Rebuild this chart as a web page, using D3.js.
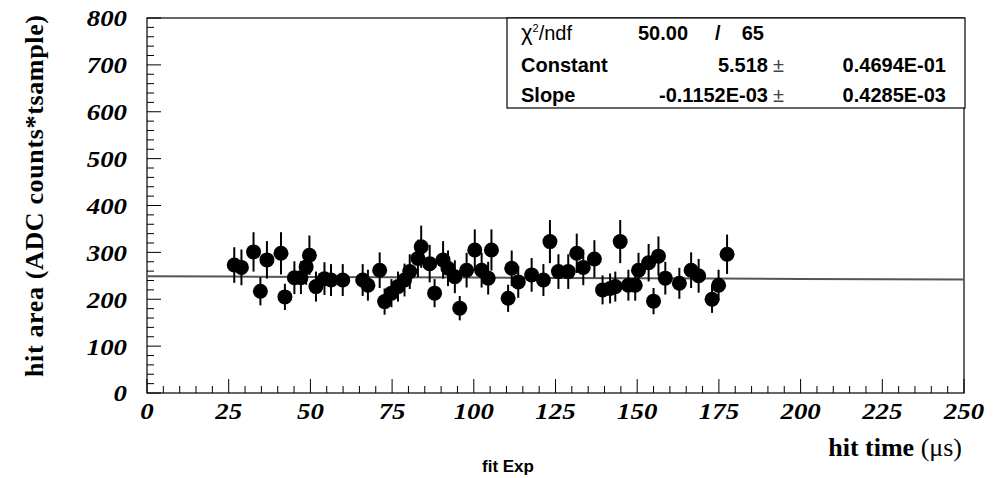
<!DOCTYPE html>
<meta charset="utf-8">
<script src="https://cdn.jsdelivr.net/npm/d3@7"></script>
<style>
  body { margin: 0; background: #fff; }
  .tick-label { font-family: "Liberation Serif", "DejaVu Serif", serif; font-weight: bold; font-style: italic; font-size: 24px; }
  .title { font-family: "Liberation Serif", serif; font-weight: bold; font-size: 26px; }
  .stat { font-family: "Liberation Sans", Arial, sans-serif; font-size: 20px; }
</style>

<svg id="graph" width="999" height="478"></svg>

<script>

// measured points: hit time (us), hit area, error
var hitTime = [26.7, 28.9, 32.6, 34.7, 36.7, 41.0, 42.2, 45.1, 47.1, 48.7, 49.7, 51.7, 54.3, 56.3, 59.9, 66.0,
               67.6, 71.2, 72.7, 74.8, 76.8, 78.8, 80.4, 82.9, 83.9, 86.5, 88.0, 90.6, 92.1, 94.2, 95.7, 97.8,
               100.3, 102.4, 104.4, 105.4, 110.5, 111.6, 113.6, 117.7, 121.3, 123.3, 125.9, 128.9, 131.5, 133.5,
               136.9, 139.4, 141.7, 143.3, 144.8, 147.3, 149.4, 150.4, 153.5, 155.0, 156.5, 158.6, 162.9, 166.5,
               168.8, 172.9, 174.9, 177.5];
var hitArea = [273, 268, 301, 217, 284, 298, 205, 246, 246, 269, 294, 227, 244, 241, 241, 241,
               230, 262, 195, 213, 227, 241, 259, 287, 312, 276, 213, 284, 266, 248, 181, 262,
               305, 262, 245, 305, 202, 266, 237, 252, 241, 323, 259, 259, 298, 268,
               286, 220, 223, 227, 323, 230, 230, 262, 278, 196, 292, 245, 234, 262,
               250, 200, 230, 296];
var hitErr  = [38, 38, 42, 30, 40, 45, 28, 35, 35, 38, 42, 32, 35, 34, 34, 34,
               33, 38, 28, 30, 32, 35, 37, 40, 45, 40, 30, 40, 38, 35, 26, 37,
               44, 37, 35, 44, 29, 38, 34, 36, 34, 46, 37, 37, 42, 38,
               40, 31, 32, 32, 46, 33, 33, 37, 40, 28, 42, 35, 33, 38,
               36, 29, 33, 42];

// axis ticks
var xMajor = [0, 25, 50, 75, 100, 125, 150, 175, 200, 225, 250];
var yMajor = [0, 100, 200, 300, 400, 500, 600, 700, 800];

// fit parameters (expo: exp(p0 + p1*x))
var fitConstant = 5.518;
var fitSlope = -0.1152E-03;

var statRows = [
  {name: "Constant", value: "5.518", err: "0.4694E-01"},
  {name: "Slope", value: "-0.1152E-03", err: "0.4285E-03"}
];
var chi2 = "50.00", ndf = "65";

var svg = d3.select("#graph");

var x = d3.scaleLinear().domain([0, 250]).range([147, 964]),
    y = d3.scaleLinear().domain([0, 800]).range([393, 18]);

var data = hitTime.map(function(t, i) { return {t: t, a: hitArea[i], e: hitErr[i]}; });

// frame
svg.append("rect")
    .attr("x", x(0)).attr("y", y(800))
    .attr("width", x(250) - x(0)).attr("height", y(0) - y(800))
    .attr("fill", "none").attr("stroke", "#000").attr("stroke-width", 1.2);

// ticks (inward), 5 subdivisions
var xMinor = d3.range(0, 250.1, 5), yMinor = d3.range(0, 800.1, 20);
var g = svg.append("g").attr("stroke", "#000").attr("stroke-width", 1);
g.selectAll(".xmin").data(xMinor).enter().append("line")
    .attr("x1", function(d) { return x(d); }).attr("x2", function(d) { return x(d); })
    .attr("y1", y(0)).attr("y2", function(d) { return y(0) - (d % 25 === 0 ? 14 : 7); });
g.selectAll(".ymin").data(yMinor).enter().append("line")
    .attr("y1", function(d) { return y(d); }).attr("y2", function(d) { return y(d); })
    .attr("x1", x(0)).attr("x2", function(d) { return x(0) + (d % 100 === 0 ? 14 : 7); });

svg.selectAll(".xl").data(xMajor).enter().append("text")
    .attr("class", "tick-label")
    .attr("transform", function(d) { return "translate(" + x(d) + ",419) scale(1.12,1)"; })
    .attr("text-anchor", "middle")
    .text(function(d) { return d; });
svg.selectAll(".yl").data(yMajor).enter().append("text")
    .attr("class", "tick-label")
    .attr("transform", function(d) { return "translate(127," + y(d) + ") scale(1.12,1)"; })
    .attr("dy", "0.35em")
    .attr("text-anchor", "end")
    .text(function(d) { return d; });

// titles
svg.append("text").attr("class", "title")
    .attr("transform", "translate(43,15) rotate(-90)")
    .attr("text-anchor", "end")
    .attr("textLength", 362)
    .text("hit area (ADC counts*tsample)");
var xt = svg.append("text").attr("class", "title")
    .attr("x", 962).attr("y", 456).attr("text-anchor", "end");
xt.append("tspan").text("hit time ");
xt.append("tspan").attr("font-weight", "normal").text("(\u03BCs)");

svg.append("text")
    .attr("x", 508).attr("y", 472)
    .attr("text-anchor", "middle")
    .style("font", "bold 17px 'Liberation Sans', Arial, sans-serif")
    .text("fit Exp");

// fit line
var fitLine = d3.line()
    .x(function(d) { return x(d); })
    .y(function(d) { return y(Math.exp(fitConstant + fitSlope * d)); });
svg.append("path")
    .attr("d", fitLine(xMajor))
    .attr("fill", "none").attr("stroke", "#555").attr("stroke-width", 2);

// error bars and markers
svg.selectAll(".err").data(data).enter().append("line")
    .attr("x1", function(d) { return x(d.t); }).attr("x2", function(d) { return x(d.t); })
    .attr("y1", function(d) { return y(d.a + d.e); }).attr("y2", function(d) { return y(d.a - d.e); })
    .attr("stroke", "#000").attr("stroke-width", 2);
svg.selectAll(".pt").data(data).enter().append("circle")
    .attr("cx", function(d) { return x(d.t); }).attr("cy", function(d) { return y(d.a); })
    .attr("r", 7.5).attr("fill", "#000");

// stats box
var box = svg.append("g");
box.append("rect").attr("x", 507).attr("y", 18).attr("width", 458).attr("height", 90)
    .attr("fill", "#fff").attr("stroke", "#000").attr("stroke-width", 1.2);
var r1 = box.append("text").attr("class", "stat").attr("x", 521).attr("y", 40);
r1.append("tspan").attr("font-size", 22).text("\u03C7");
r1.append("tspan").attr("dy", -8).attr("font-size", 11).text("2");
r1.append("tspan").attr("dy", 8).text("/ndf");
box.append("text").attr("class", "stat").attr("x", 638).attr("y", 40)
    .attr("font-weight", "bold").text(chi2);
box.append("text").attr("class", "stat").attr("x", 715).attr("y", 40)
    .attr("font-weight", "bold").text("/");
box.append("text").attr("class", "stat").attr("x", 764).attr("y", 40)
    .attr("font-weight", "bold").attr("text-anchor", "end").text(ndf);

statRows.forEach(function(r, i) {
  var by = 72 + i * 30;
  box.append("text").attr("class", "stat").attr("x", 521).attr("y", by)
      .attr("font-weight", "bold").text(r.name);
  box.append("text").attr("class", "stat").attr("x", 768).attr("y", by)
      .attr("font-weight", "bold").attr("text-anchor", "end").text(r.value);
  box.append("text").attr("class", "stat").attr("x", 773).attr("y", by)
      .attr("fill", "#444").text("\u00B1");
  box.append("text").attr("class", "stat").attr("x", 946).attr("y", by)
      .attr("font-weight", "bold").attr("text-anchor", "end").text(r.err);
});

</script>
